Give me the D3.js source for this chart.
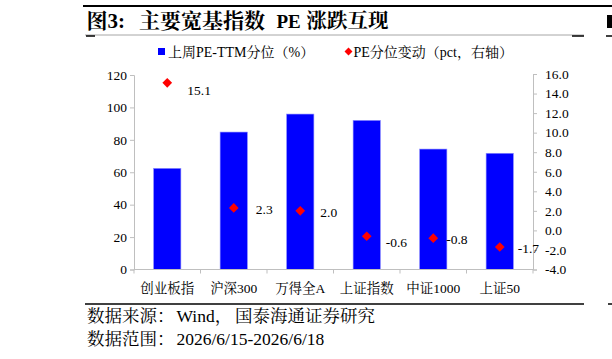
<!DOCTYPE html>
<html>
<head>
<meta charset="utf-8">
<script src="https://cdn.jsdelivr.net/npm/d3@7"></script>
<style>
  body { margin: 0; background: #fff; }
  svg { display: block; }
  .serif { font-family: "Liberation Serif", "Noto Serif CJK SC", "Noto Sans CJK SC", serif; }
</style>
</head>
<body>
<svg class="chart serif"></svg>
<script>
// -------------------- Data --------------------
var categories = ["创业板指", "沪深300", "万得全A", "上证指数", "中证1000", "上证50"];
var pctValues = [62.4, 84.8, 95.9, 92.0, 74.3, 71.7];     // 上周PE-TTM分位（%）
var chgValues = [15.1, 2.3, 2.0, -0.6, -0.8, -1.7];       // PE分位变动（pct，右轴）
var leftTicks = [0, 20, 40, 60, 80, 100, 120];
var rightTicks = [-4, -2, 0, 2, 4, 6, 8, 10, 12, 14, 16];

// label nudges for the point labels (pixels)
var labelDx = [20, 22, 20, 19, 13, 18];
var labelDy = [7, 1, 1, 6, 1, 1];

// -------------------- Settings --------------------
var W = 612, H = 359;
var plot = {left: 134, right: 533, top: 75, bottom: 269.5};
var axisColor = "#bfbfbf";
var fmt1 = function(d) { return d.toFixed(1); };   // keeps a plain hyphen for negatives

var svg = d3.select(".chart").attr("width", W).attr("height", H);

// -------------------- Header --------------------
svg.append("line").attr("x1", 83).attr("x2", 612).attr("y1", 6).attr("y2", 6)
  .attr("stroke", "#000").attr("stroke-width", 2);
var title = svg.append("text").attr("y", 28)
  .style("font-size", "21px").style("font-weight", "bold");
title.append("tspan").attr("x", 86.5).text("图3:");
title.append("tspan").attr("x", 139).text("主要宽基指数");
title.append("tspan").attr("x", 276.5).style("font-size", "19px").text("PE");
title.append("tspan").attr("x", 306.5).style("font-size", "20.5px").text("涨跌互现");
svg.append("line").attr("x1", 85).attr("x2", 584).attr("y1", 35).attr("y2", 35)
  .attr("stroke", "#a6a6a6").attr("stroke-width", 1);
[[86, 95], [572, 584], [606, 612]].forEach(function(s) {
  svg.append("line").attr("x1", s[0]).attr("x2", s[1]).attr("y1", 36).attr("y2", 36)
    .attr("stroke", "#000").attr("stroke-width", 1.5);
});
svg.append("rect").attr("x", 607).attr("y", 15).attr("width", 5).attr("height", 13).attr("fill", "#000");

// -------------------- Scales --------------------
var x = d3.scaleBand().domain(categories).range([plot.left, plot.right]).paddingInner(0).paddingOuter(0);
var yL = d3.scaleLinear().domain([0, 120]).range([plot.bottom, plot.top]);
var yR = d3.scaleLinear().domain([-4, 16]).range([plot.bottom, plot.top - 1]);

// -------------------- Axes --------------------
var gL = svg.append("g").attr("transform", "translate(" + plot.left + ",0)")
  .call(d3.axisLeft(yL).tickValues(leftTicks).tickSize(4).tickPadding(3));
var gR = svg.append("g").attr("transform", "translate(" + plot.right + ",0)")
  .call(d3.axisRight(yR).tickValues(rightTicks).tickSize(4).tickPadding(8).tickFormat(fmt1));
[gL, gR].forEach(function(g) {
  g.select(".domain").attr("stroke", axisColor);
  g.selectAll(".tick line").attr("stroke", axisColor);
  g.selectAll("text").attr("fill", "#000").style("font-size", "13.5px")
    .style("font-family", "'Liberation Serif', serif");
});

// -------------------- Bars --------------------
var barW = x.bandwidth() * 0.41;
svg.selectAll("rect.bar").data(pctValues).enter().append("rect")
  .attr("class", "bar")
  .attr("x", function(d, i) { return x(categories[i]) + (x.bandwidth() - barW) / 2; })
  .attr("y", function(d) { return yL(d); })
  .attr("width", barW)
  .attr("height", function(d) { return yL(0) - yL(d); })
  .attr("fill", "#0000ff")
  .attr("stroke", "#8c8cff").attr("stroke-width", 0.6);

// x axis (drawn over the bars)
var gX = svg.append("g").attr("transform", "translate(0," + plot.bottom + ")");
gX.append("line").attr("x1", plot.left).attr("x2", plot.right)
  .attr("stroke", axisColor);
gX.selectAll("line.tk").data(d3.range(categories.length + 1)).enter().append("line")
  .attr("class", "tk")
  .attr("x1", function(i) { return plot.left + i * x.step(); })
  .attr("x2", function(i) { return plot.left + i * x.step(); })
  .attr("y1", 0).attr("y2", 4).attr("stroke", axisColor);
gX.selectAll("text").data(categories).enter().append("text")
  .attr("x", function(d) { return x(d) + x.bandwidth() / 2; })
  .attr("y", 23)
  .attr("text-anchor", "middle")
  .style("font-size", "13.5px")
  .text(function(d) { return d; });

// -------------------- Diamonds --------------------
var diamond = d3.symbol().type(d3.symbolDiamond2).size(60);
svg.selectAll("path.pt").data(chgValues).enter().append("path")
  .attr("class", "pt")
  .attr("d", diamond)
  .attr("transform", function(d, i) {
    return "translate(" + (x(categories[i]) + x.bandwidth() / 2) + "," + yR(d) + ")";
  })
  .attr("fill", "#ff0000");
svg.selectAll("text.lbl").data(chgValues).enter().append("text")
  .attr("class", "lbl")
  .attr("x", function(d, i) { return x(categories[i]) + x.bandwidth() / 2 + labelDx[i]; })
  .attr("y", function(d, i) { return yR(d) + labelDy[i] + 5; })
  .style("font-size", "13.5px")
  .text(fmt1);

// -------------------- Legend --------------------
var leg = svg.append("g").style("font-size", "14px");
leg.append("rect").attr("x", 158).attr("y", 48).attr("width", 7).attr("height", 7).attr("fill", "#0000ff");
leg.append("text").attr("x", 168).attr("y", 56.5).text("上周PE-TTM分位（%）");
leg.append("path").attr("d", d3.symbol().type(d3.symbolDiamond2).size(40))
  .attr("transform", "translate(348.5,51.5)").attr("fill", "#ff0000");
leg.append("text").attr("x", 353.5).attr("y", 56.5).text("PE分位变动（pct，右轴）");

// -------------------- Footer --------------------
svg.append("line").attr("x1", 85).attr("x2", 584).attr("y1", 304).attr("y2", 304)
  .attr("stroke", "#000").attr("stroke-width", 1.5);
svg.append("line").attr("x1", 608).attr("x2", 612).attr("y1", 304).attr("y2", 304)
  .attr("stroke", "#000").attr("stroke-width", 1.5);
var f1 = svg.append("text").attr("y", 322).style("font-size", "17.5px");
f1.append("tspan").attr("x", 87).text("数据来源：");
f1.append("tspan").attr("x", 176.5).text("Wind，");
f1.append("tspan").attr("x", 235).text("国泰海通证券研究");
var f2 = svg.append("text").attr("y", 344.5).style("font-size", "17.5px");
f2.append("tspan").attr("x", 87).text("数据范围：");
f2.append("tspan").attr("x", 176.5).text("2026/6/15-2026/6/18");
</script>
</body>
</html>
